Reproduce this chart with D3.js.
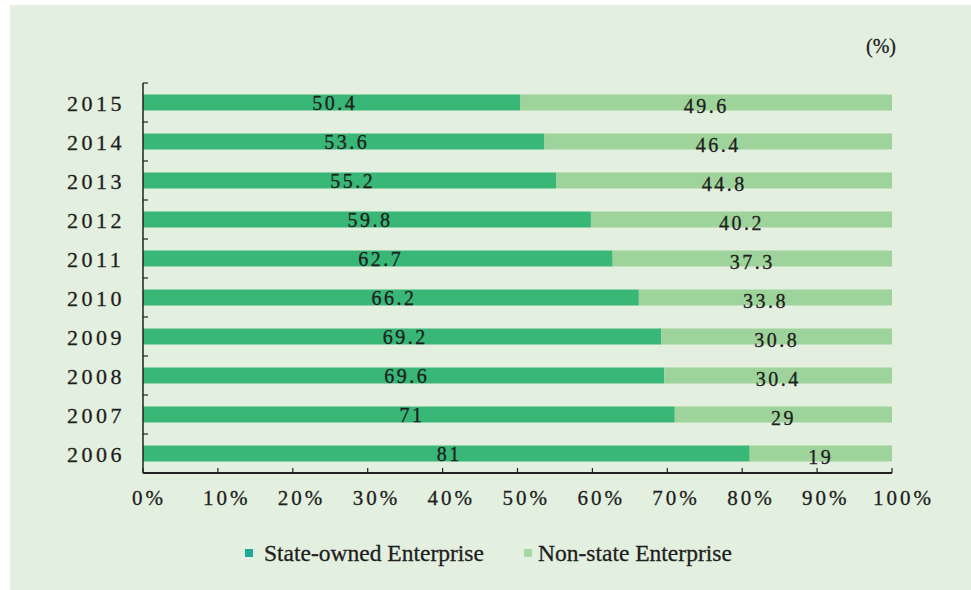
<!DOCTYPE html>
<html>
<head>
<meta charset="utf-8">
<script src="https://cdn.jsdelivr.net/npm/d3@7"></script>
<style>
  body { margin: 0; background: #fff; }
  svg text { font-family: "Liberation Serif", "Times New Roman", serif; fill: #1e1e1e; stroke: #1e1e1e; stroke-width: 0.3px; }
</style>
</head>
<body>
<div id="chart"></div>
<script>
// data
const years = ["2006", "2007", "2008", "2009", "2010", "2011", "2012", "2013", "2014", "2015"];
const stateOwned = [81, 71, 69.6, 69.2, 66.2, 62.7, 59.8, 55.2, 53.6, 50.4];
const nonState = [19, 29, 30.4, 30.8, 33.8, 37.3, 40.2, 44.8, 46.4, 49.6];
const xTicks = [0, 10, 20, 30, 40, 50, 60, 70, 80, 90, 100];
const seriesNames = ["State-owned Enterprise", "Non-state Enterprise"];

const W = 971, H = 590;
const margin = {top: 83, right: 79, bottom: 117, left: 143};
const width = W - margin.left - margin.right,
      height = H - margin.top - margin.bottom;

const svg = d3.select("#chart").append("svg")
    .attr("width", W)
    .attr("height", H);

// panel background
svg.append("rect")
    .attr("x", 10).attr("y", 5)
    .attr("width", W - 10).attr("height", H - 5)
    .attr("fill", "#e3efdf");

const g = svg.append("g")
    .attr("transform", "translate(" + margin.left + "," + margin.top + ")");

const x = d3.scaleLinear().domain([0, 100]).range([0, width]);
const y = d3.scaleBand()
    .domain(years.slice().reverse())
    .range([0, height])
    .paddingInner(0.59)
    .paddingOuter(0.295);

const rows = years.map((yr, i) => ({year: yr, s: stateOwned[i], n: nonState[i]}));

// state-owned segment
g.selectAll(".bar-s").data(rows).enter().append("rect")
    .attr("class", "bar-s")
    .attr("x", x(0))
    .attr("y", d => y(d.year))
    .attr("width", d => x(d.s) - x(0))
    .attr("height", y.bandwidth())
    .attr("fill", "#38b777");

// non-state segment
g.selectAll(".bar-n").data(rows).enter().append("rect")
    .attr("class", "bar-n")
    .attr("x", d => x(d.s))
    .attr("y", d => y(d.year))
    .attr("width", d => x(d.s + d.n) - x(d.s))
    .attr("height", y.bandwidth())
    .attr("fill", "#9ed39b");

// value labels (the non-state ones sit a little lower, as in the original)
const mid = d => y(d.year) + y.bandwidth() / 2;
g.selectAll(".lab-s").data(rows).enter().append("text")
    .attr("x", d => x(d.s / 2) + 3)
    .attr("y", d => mid(d) + 7)
    .attr("text-anchor", "middle")
    .style("font-size", "20px")
    .style("letter-spacing", "2.5px")
    .text(d => d.s);

g.selectAll(".lab-n").data(rows).enter().append("text")
    .attr("x", d => x(d.s + d.n / 2))
    .attr("y", d => mid(d) + 10)
    .attr("text-anchor", "middle")
    .style("font-size", "20px")
    .style("letter-spacing", "2.5px")
    .text(d => d.n);

// y axis: line with ticks at band boundaries
const yAxis = g.append("g");
yAxis.append("line")
    .attr("x1", 0).attr("x2", 0)
    .attr("y1", 0).attr("y2", height)
    .attr("stroke", "#222").attr("stroke-width", 1.5);
const bounds = years.map((yr, i) => y.step() * i).concat([height]);
yAxis.selectAll(".yt").data(bounds).enter().append("line")
    .attr("x1", 0).attr("x2", 5)
    .attr("y1", d => d).attr("y2", d => d)
    .attr("stroke", "#222").attr("stroke-width", 1.2);
yAxis.selectAll(".ylab").data(years).enter().append("text")
    .attr("x", -76)
    .attr("y", d => y(d) + y.bandwidth() / 2 + 8)
    .attr("text-anchor", "start")
    .style("font-size", "22px")
    .style("letter-spacing", "3.5px")
    .text(d => d);

// x axis
const xAxis = g.append("g")
    .attr("transform", "translate(0," + height + ")");
xAxis.append("line")
    .attr("x1", 0).attr("x2", width)
    .attr("stroke", "#222").attr("stroke-width", 1.8);
xAxis.selectAll(".xt").data(xTicks).enter().append("line")
    .attr("x1", d => x(d)).attr("x2", d => x(d))
    .attr("y1", 0).attr("y2", -5)
    .attr("stroke", "#222").attr("stroke-width", 1.2);
xAxis.selectAll(".xlab").data(xTicks).enter().append("text")
    .attr("x", d => x(d) - 3 - 4 * (d + "%").length)
    .attr("y", 32)
    .attr("text-anchor", "start")
    .style("font-size", "21px")
    .style("letter-spacing", "3px")
    .text(d => d + "%");

// unit
svg.append("text")
    .attr("x", 881).attr("y", 53)
    .attr("text-anchor", "middle")
    .style("font-size", "20px")
    .text("(%)");

// legend
const legend = svg.append("g");
const legendItems = [
  {name: seriesNames[0], color: "#1fa79a", x: 245, tx: 264},
  {name: seriesNames[1], color: "#a6d8a6", x: 524, tx: 538}
];
legend.selectAll("rect").data(legendItems).enter().append("rect")
    .attr("x", d => d.x).attr("y", 549)
    .attr("width", 8).attr("height", 8)
    .attr("fill", d => d.color);
legend.selectAll("text").data(legendItems).enter().append("text")
    .attr("x", d => d.tx).attr("y", 561)
    .style("font-size", "23.5px")
    .text(d => d.name);
</script>
</body>
</html>
